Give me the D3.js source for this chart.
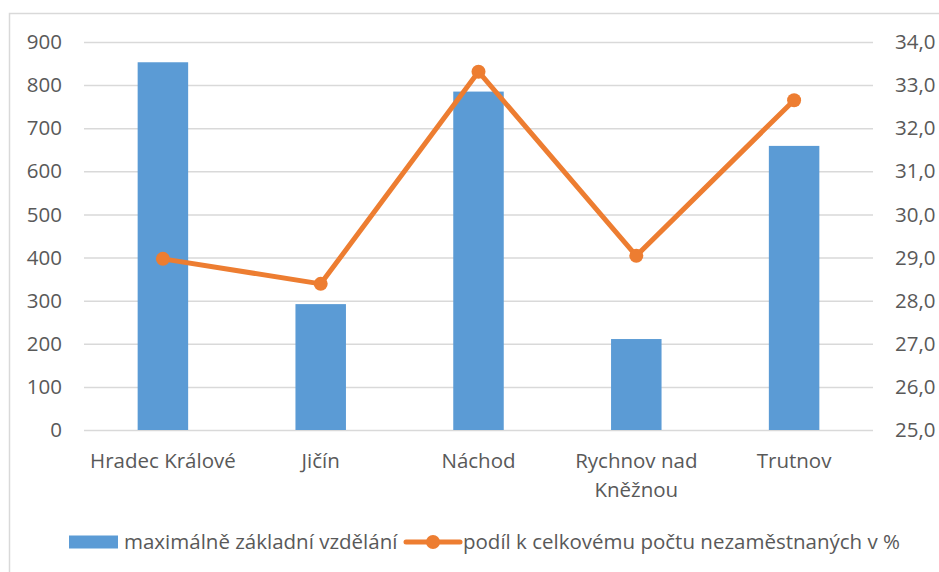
<!DOCTYPE html>
<html>
<head>
<meta charset="utf-8">
<script src="https://cdn.jsdelivr.net/npm/d3@7"></script>
<style>
  body { margin: 0; background: #fff; }
  svg text { font-family: 'Open Sans', sans-serif; fill: #595959; }
</style>
</head>
<body>
<div id="chart"></div>
<script>
// data
var categories = ['Hradec Králové', 'Jičín', 'Náchod', 'Rychnov nad Kněžnou', 'Trutnov'];
var categoryLines = [['Hradec Králové'], ['Jičín'], ['Náchod'], ['Rychnov nad', 'Kněžnou'], ['Trutnov']];
var counts = [853, 292, 785, 211, 659];
var shares = [28.97, 28.39, 33.31, 29.04, 32.65];
var leftTicks = [0, 100, 200, 300, 400, 500, 600, 700, 800, 900];
var rightTicks = [25, 26, 27, 28, 29, 30, 31, 32, 33, 34];
var barName = 'maximálně základní vzdělání';
var lineName = 'podíl k celkovému počtu nezaměstnaných v %';

var width = 939;
var height = 572;
var margin = { top: 42, right: 66, bottom: 142, left: 84 };
var graphWidth = width - margin.left - margin.right;
var graphHeight = height - margin.top - margin.bottom;
var fontSize = '20.5px';

var barColor = '#5b9bd5';
var lineColor = '#ed7d31';

var svg = d3
  .select('#chart')
  .append('svg')
  .attr('width', width)
  .attr('height', height);

// outer chart border
svg
  .append('rect')
  .attr('x', 9.5)
  .attr('y', 13.5)
  .attr('width', width)
  .attr('height', height)
  .attr('fill', 'none')
  .attr('stroke', '#d9d9d9')
  .attr('stroke-width', 1.5);

var graph = svg
  .append('g')
  .attr('transform', 'translate(' + margin.left + ',' + margin.top + ')');

var x = d3.scaleBand().range([0, graphWidth]).domain(categories).padding(0);
var y = d3.scaleLinear().range([graphHeight, 0]).domain([0, 900]);
var y2 = d3.scaleLinear().range([graphHeight, 0]).domain([25, 34]);

// grid
var yGrid = graph
  .append('g')
  .call(d3.axisLeft(y).tickValues(leftTicks).tickSize(-graphWidth).tickFormat(''));
yGrid.select('.domain').remove();
yGrid.selectAll('line').attr('stroke', '#d9d9d9').attr('stroke-width', 1.5);

// left axis labels
var yAxis = graph
  .append('g')
  .call(d3.axisLeft(y).tickValues(leftTicks).tickSize(0).tickPadding(22));
yAxis.select('.domain').remove();
yAxis.selectAll('text').style('font-size', fontSize).style('font-family', null).attr('fill', null);

// right axis labels
var y2Axis = graph
  .append('g')
  .attr('transform', 'translate(' + graphWidth + ',0)')
  .call(
    d3.axisRight(y2)
      .tickValues(rightTicks)
      .tickSize(0)
      .tickPadding(22)
      .tickFormat(d => d3.format('.1f')(d).replace('.', ','))
  );
y2Axis.select('.domain').remove();
y2Axis.selectAll('text').style('font-size', fontSize).style('font-family', null).attr('fill', null);

// category labels
var xLabels = graph
  .selectAll('.x-label')
  .data(categoryLines)
  .enter()
  .append('text')
  .attr('class', 'x-label')
  .attr('text-anchor', 'middle')
  .attr('x', (d, i) => x(categories[i]) + x.bandwidth() / 2)
  .attr('y', graphHeight + 38)
  .style('font-size', fontSize);
xLabels
  .selectAll('tspan')
  .data(d => d)
  .enter()
  .append('tspan')
  .attr('x', function () { return d3.select(this.parentNode).attr('x'); })
  .attr('dy', (d, i) => (i === 0 ? 0 : 29))
  .text(d => d);

// bars
var barWidth = x.bandwidth() * 0.32;
graph
  .selectAll('.bar')
  .data(counts)
  .enter()
  .append('rect')
  .attr('class', 'bar')
  .attr('x', (d, i) => x(categories[i]) + (x.bandwidth() - barWidth) / 2)
  .attr('y', d => y(d))
  .attr('width', barWidth)
  .attr('height', d => graphHeight - y(d))
  .attr('fill', barColor);

// line
var line = d3
  .line()
  .x((d, i) => x(categories[i]) + x.bandwidth() / 2)
  .y(d => y2(d));
graph
  .append('path')
  .datum(shares)
  .attr('d', line)
  .attr('fill', 'none')
  .attr('stroke', lineColor)
  .attr('stroke-width', 5)
  .attr('stroke-linejoin', 'round');
graph
  .selectAll('.dot')
  .data(shares)
  .enter()
  .append('circle')
  .attr('class', 'dot')
  .attr('cx', (d, i) => x(categories[i]) + x.bandwidth() / 2)
  .attr('cy', d => y2(d))
  .attr('r', 7)
  .attr('fill', lineColor);

// legend
var legend = svg.append('g').attr('transform', 'translate(0,542)');
legend
  .append('rect')
  .attr('x', 69)
  .attr('y', -6.5)
  .attr('width', 49)
  .attr('height', 13)
  .attr('fill', barColor);
legend
  .append('text')
  .attr('x', 124)
  .attr('dy', '0.35em')
  .style('font-size', fontSize)
  .text(barName);
legend
  .append('line')
  .attr('x1', 406)
  .attr('x2', 460)
  .attr('stroke', lineColor)
  .attr('stroke-width', 5)
  .attr('stroke-linecap', 'round');
legend
  .append('circle')
  .attr('cx', 433)
  .attr('r', 7)
  .attr('fill', lineColor);
legend
  .append('text')
  .attr('x', 463)
  .attr('dy', '0.35em')
  .style('font-size', fontSize)
  .text(lineName);
</script>
</body>
</html>
